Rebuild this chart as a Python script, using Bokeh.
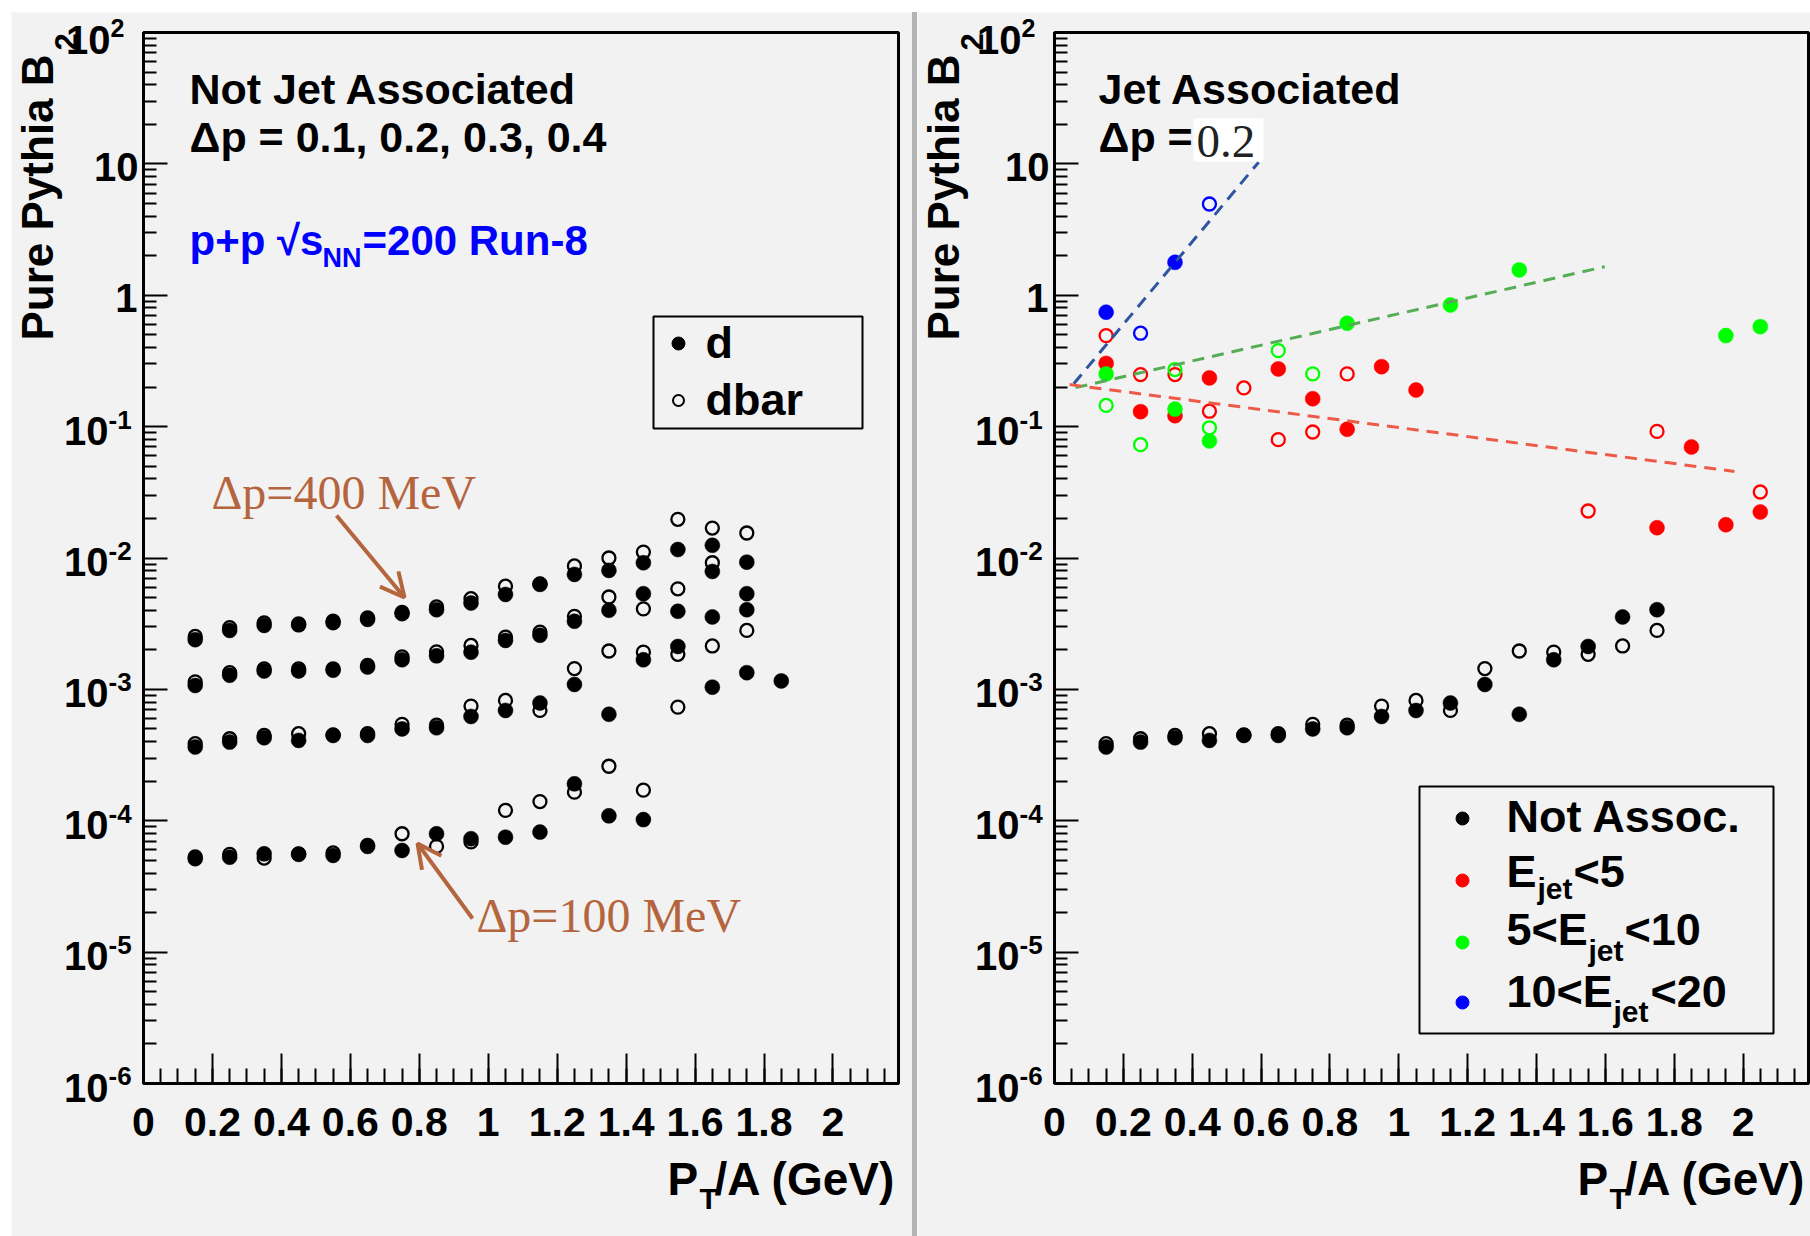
import math
from bokeh.plotting import figure
from bokeh.models import (Label, Arrow, OpenHead, BoxAnnotation, FixedTicker, Spacer,
                          Range1d, CustomJSTickFormatter, AllLabels)
from bokeh.layouts import row, column
from bokeh.embed import file_html
from bokeh.resources import INLINE

# ---------------- data ----------------
pt = [0.15, 0.25, 0.35, 0.45, 0.55, 0.65, 0.75, 0.85, 0.95, 1.05,
      1.15, 1.25, 1.35, 1.45, 1.55, 1.65, 1.75, 1.85]

# Left panel: not jet associated, four coalescence momenta
dp04_d = [2.39e-3, 2.81e-3, 3.07e-3, 3.10e-3, 3.22e-3, 3.41e-3, 3.77e-3, 4.04e-3, 4.54e-3,
          5.28e-3, 6.30e-3, 7.50e-3, 8.05e-3, 9.20e-3, 1.16e-2, 1.25e-2, 9.30e-3, None]
dp04_dbar = [2.53e-3, 2.95e-3, 3.20e-3, 3.15e-3, 3.30e-3, 3.50e-3, 3.85e-3, 4.24e-3, 4.90e-3,
             6.10e-3, 6.35e-3, 8.70e-3, 1.00e-2, 1.11e-2, 1.97e-2, 1.69e-2, 1.55e-2, None]
dp03_d = [1.07e-3, 1.28e-3, 1.38e-3, 1.38e-3, 1.40e-3, 1.48e-3, 1.68e-3, 1.80e-3, 1.92e-3,
          2.36e-3, 2.58e-3, 3.30e-3, 4.00e-3, 5.35e-3, 3.93e-3, 7.90e-3, 5.35e-3, None]
dp03_dbar = [1.14e-3, 1.34e-3, 1.43e-3, 1.43e-3, 1.43e-3, 1.52e-3, 1.77e-3, 1.93e-3, 2.16e-3,
             2.50e-3, 2.73e-3, 3.60e-3, 5.05e-3, 4.10e-3, 5.83e-3, 9.20e-3, None, None]
dp02_d = [3.64e-4, 3.97e-4, 4.28e-4, 4.09e-4, 4.46e-4, 4.46e-4, 5.00e-4, 5.10e-4, 6.22e-4,
          6.91e-4, 7.87e-4, 1.09e-3, 6.46e-4, 1.68e-3, 2.12e-3, 3.56e-3, 4.04e-3, None]
dp02_dbar = [3.86e-4, 4.21e-4, 4.46e-4, 4.60e-4, 4.50e-4, 4.60e-4, 5.42e-4, 5.35e-4, 7.46e-4,
             8.24e-4, 6.91e-4, 1.44e-3, 1.96e-3, 1.92e-3, 1.85e-3, 2.14e-3, 2.81e-3, None]
dp01_d = [5.14e-5, 5.28e-5, 5.60e-5, 5.55e-5, 5.45e-5, 6.38e-5, 5.94e-5, 7.96e-5, 7.30e-5,
          7.50e-5, 8.20e-5, 1.91e-4, 1.09e-4, 1.02e-4, None, 1.04e-3, 1.34e-3, 1.16e-3]
dp01_dbar = [5.30e-5, 5.55e-5, 5.20e-5, 5.60e-5, 5.70e-5, 6.50e-5, 7.96e-5, 6.38e-5, 6.90e-5,
             1.20e-4, 1.40e-4, 1.65e-4, 2.60e-4, 1.71e-4, 7.33e-4, None, None, None]

# Right panel: jet associated (dp = 0.2); "Not Assoc." is the dp=0.2 set above
ej5_d_x = [0.15, 0.25, 0.35, 0.45, 0.65, 0.75, 0.85, 0.95, 1.05, 1.75, 1.85, 1.95, 2.05]
ej5_d_y = [0.303, 0.130, 0.121, 0.235, 0.275, 0.163, 0.0955, 0.286, 0.190, 0.0170, 0.070, 0.0179, 0.0224]
ej5_dbar_x = [0.15, 0.25, 0.35, 0.45, 0.55, 0.65, 0.75, 0.85, 1.55, 1.75, 2.05]
ej5_dbar_y = [0.493, 0.249, 0.249, 0.131, 0.197, 0.0796, 0.091, 0.252, 0.0228, 0.092, 0.0318]
ej10_d_x = [0.15, 0.35, 0.45, 0.85, 1.15, 1.35, 1.95, 2.05]
ej10_d_y = [0.252, 0.136, 0.0778, 0.612, 0.843, 1.56, 0.493, 0.577]
ej10_dbar_x = [0.15, 0.25, 0.35, 0.45, 0.65, 0.75]
ej10_dbar_y = [0.145, 0.0729, 0.272, 0.098, 0.379, 0.252]
ej20_d_x = [0.15, 0.35]
ej20_d_y = [0.743, 1.78]
ej20_dbar_x = [0.25, 0.45]
ej20_dbar_y = [0.514, 4.95]

# dashed trend lines (end points)
fit20_x = [0.056, 0.593]
fit20_y = [0.212, 10.3]
fit10_x = [0.061, 1.598]
fit10_y = [0.198, 1.65]
fit5_x = [0.044, 1.975]
fit5_y = [0.209, 0.0456]

x_tick_labels = ["0", "0.2", "0.4", "0.6", "0.8", "1", "1.2", "1.4", "1.6", "1.8", "2"]

# ---------------- style ----------------
BG = "#f2f2f2"
FONT = "Liberation Sans"
SERIF = "Liberation Serif"
BROWN = "#b5653d"
XMAX = 2.19
YLO, YHI = 1e-6, 1e2
FT, FB = 32, 1083          # data frame top / bottom (page px)
PH = 1224                  # figure height
TOP_PAD, LEFT_PAD = 12, 11
BASE = 0.35                # baseline correction (em)
GEOM = {}


def pts(xs, ys):
    xx = [x for x, y in zip(xs, ys) if y is not None]
    yy = [y for y in ys if y is not None]
    return xx, yy


def px_to_x(fl, fr, px):
    return (px - fl) / (fr - fl) * XMAX


def py_to_y(py):
    return 10 ** (2 - (py - FT) / (FB - FT) * 8)


def make_fig(width, fl_page, fr_page, canvas_left):
    xr = Range1d(px_to_x(fl_page, fr_page, canvas_left), px_to_x(fl_page, fr_page, canvas_left + width))
    yr = Range1d(py_to_y(TOP_PAD + PH), py_to_y(TOP_PAD))
    p = figure(width=width, height=PH, x_range=xr, y_range=yr,
               y_axis_type="log", output_backend="svg", toolbar_location=None,
               min_border=0, background_fill_color=BG, border_fill_color=BG,
               outline_line_color=None)
    p.grid.visible = False
    xa = p.xaxis[0]
    xa.fixed_location = YLO
    xa.bounds = (0, XMAX)
    xa.ticker = FixedTicker(ticks=[0.2 * i for i in range(11)],
                            minor_ticks=[0.05 * i for i in range(44)])
    xa.formatter = CustomJSTickFormatter(
        args=dict(labs=x_tick_labels),
        code="return labs[Math.round(tick*5)];")
    xa.major_label_policy = AllLabels()
    xa.major_label_text_font = FONT
    xa.major_label_text_font_style = "bold"
    xa.major_label_text_font_size = "41px"
    xa.major_label_text_color = "black"
    xa.major_label_standoff = 24
    xa.major_tick_in, xa.major_tick_out = 30, 0
    xa.minor_tick_in, xa.minor_tick_out = 15, 0
    xa.major_tick_line_width = 2
    xa.minor_tick_line_width = 2
    xa.axis_line_width = 3
    ya = p.yaxis[0]
    ya.fixed_location = 0
    ya.bounds = (YLO, YHI)
    ya.ticker = FixedTicker(ticks=[10.0 ** e for e in range(-6, 3)],
                            minor_ticks=[k * 10.0 ** e for e in range(-6, 2) for k in range(2, 10)])
    ya.formatter = CustomJSTickFormatter(code="return '';")
    ya.major_label_text_font_size = "1px"
    ya.major_tick_in, ya.major_tick_out = 24, 0
    ya.minor_tick_in, ya.minor_tick_out = 13, 0
    ya.major_tick_line_width = 2
    ya.minor_tick_line_width = 2
    ya.axis_line_width = 3
    # plot frame
    p.add_layout(BoxAnnotation(left=0, right=XMAX, bottom=YLO, top=YHI, fill_alpha=0,
                               line_color="black", line_alpha=1, line_width=3, level="underlay"))
    GEOM[id(p)] = (fl_page, fr_page)
    return p


def to_data(p, px, py):
    fl, fr = GEOM[id(p)]
    return px_to_x(fl, fr, px), py_to_y(py)


def lab(p, px, py, s, size, color="black", font=FONT, style="bold", align="left", angle=0.0):
    if angle:
        px = px - BASE * size
    else:
        py = py - BASE * size
    x, y = to_data(p, px, py)
    p.add_layout(Label(x=x, y=y, text=s, text_font=font, text_font_size=f"{size}px",
                       text_font_style=style, text_color=color, text_align=align,
                       text_baseline="alphabetic", angle=angle))


def box(p, l, r, t, b, fill=None, line="black", lw=2):
    x0, y0 = to_data(p, l, b)
    x1, y1 = to_data(p, r, t)
    p.add_layout(BoxAnnotation(left=x0, right=x1, bottom=y0, top=y1,
                               fill_color=fill if fill else "white", fill_alpha=1 if fill else 0,
                               line_color=line if line else "white", line_alpha=1 if line else 0,
                               line_width=lw))


def frame_texts(p, left_page):
    fl, fr = GEOM[id(p)]
    # y tick labels
    for e in range(-6, 3):
        ty = FT + (2 - e) * (FB - FT) / 8
        if e == 0:
            lab(p, fl - 6, ty + 17, "1", 40, align="right")
        elif e == 1:
            lab(p, fl - 5, ty + 17, "10", 40, align="right")
        elif e == 2:
            lab(p, fl - 33, ty + 21, "10", 40, align="right")
            lab(p, fl - 33, ty + 4, "2", 25)
        else:
            lab(p, fl - 35, ty + 18, "10", 40, align="right")
            lab(p, fl - 35, ty + 2, str(e), 26)
    # y title
    off = left_page - LEFT_PAD
    lab(p, 52 + off, 340, "Pure Pythia B", 44, angle=math.pi / 2)
    lab(p, 76 + off, 50, "2", 31, angle=math.pi / 2)
    # x title
    lab(p, fr - 231, 1195, "P", 46)
    lab(p, fr - 199, 1208, "T", 30)
    lab(p, fr - 184, 1195, "/A (GeV)", 46)


def open_pts(p, xs, ys, color):
    p.scatter(xs, ys, marker="circle", size=13, fill_alpha=0, line_color=color, line_width=2.3)


def full_pts(p, xs, ys, color):
    p.scatter(xs, ys, marker="circle", size=15, fill_color=color, line_color=color, line_width=0.5)


# ---------------- left panel ----------------
p1 = make_fig(901, 143, 898, LEFT_PAD)
for dbar in (dp04_dbar, dp03_dbar, dp02_dbar, dp01_dbar):
    open_pts(p1, *pts(pt, dbar), "black")
for d in (dp04_d, dp03_d, dp02_d, dp01_d):
    full_pts(p1, *pts(pt, d), "black")

frame_texts(p1, LEFT_PAD)
lab(p1, 189, 104, "Not Jet Associated", 43)
lab(p1, 189, 152, "\u0394p = 0.1, 0.2, 0.3, 0.4", 43)
lab(p1, 189, 255, "p+p \u221as", 42, color="#0000ff")
lab(p1, 322, 267, "NN", 27, color="#0000ff")
lab(p1, 362, 255, "=200 Run-8", 42, color="#0000ff")

# legend (left)
box(p1, 653, 862, 316, 428)
lx, ly = to_data(p1, 678, 343)
p1.scatter([lx], [ly], marker="circle", size=13, fill_color="black", line_color="black")
lx, ly = to_data(p1, 678, 400)
p1.scatter([lx], [ly], marker="circle", size=11, fill_alpha=0, line_color="black", line_width=2)
lab(p1, 705, 358, "d", 45)
lab(p1, 705, 415, "dbar", 45)

# arrows + serif annotations
lab(p1, 211, 509, "\u0394p=400 MeV", 48, color=BROWN, font=SERIF, style="normal")
lab(p1, 476, 932, "\u0394p=100 MeV", 48, color=BROWN, font=SERIF, style="normal")
for (tx, ty, hx, hy) in ((336, 515, 404, 597), (472, 918, 417, 843)):
    x0, y0 = to_data(p1, tx, ty)
    x1, y1 = to_data(p1, hx, hy)
    p1.add_layout(Arrow(x_start=x0, y_start=y0, x_end=x1, y_end=y1, line_color=BROWN, line_width=4,
                        end=OpenHead(size=24, line_color=BROWN, line_width=4)))

# ---------------- right panel ----------------
RIGHT_LEFT = 917
p2 = make_fig(893, 1054, 1808, RIGHT_LEFT)
open_pts(p2, *pts(pt, dp02_dbar), "black")
full_pts(p2, *pts(pt, dp02_d), "black")
open_pts(p2, ej5_dbar_x, ej5_dbar_y, "#ff0000")
full_pts(p2, ej5_d_x, ej5_d_y, "#ff0000")
open_pts(p2, ej10_dbar_x, ej10_dbar_y, "#00ff00")
full_pts(p2, ej10_d_x, ej10_d_y, "#00ff00")
open_pts(p2, ej20_dbar_x, ej20_dbar_y, "#0000ff")
full_pts(p2, ej20_d_x, ej20_d_y, "#0000ff")

p2.line(fit20_x, fit20_y, line_color="#2d55a2", line_width=3, line_dash="12 8")
p2.line(fit10_x, fit10_y, line_color="#55ad55", line_width=3, line_dash="12 8")
p2.line(fit5_x, fit5_y, line_color="#ee5a48", line_width=3, line_dash="12 8")

frame_texts(p2, RIGHT_LEFT)
lab(p2, 1098, 104, "Jet Associated", 43)
lab(p2, 1098, 152, "\u0394p =", 43)
box(p2, 1193, 1263, 118, 161, fill="white", line=None, lw=0)
lab(p2, 1196, 157, "0.2", 47, color="#222222", font=SERIF, style="normal")

# legend (right)
box(p2, 1419, 1773, 786, 1033)
for (cy, col) in ((818, "black"), (880, "#ff0000"), (942, "#00ff00"), (1002, "#0000ff")):
    lx, ly = to_data(p2, 1462, cy)
    p2.scatter([lx], [ly], marker="circle", size=13, fill_color=col, line_color=col)
lab(p2, 1506, 832, "Not Assoc.", 45)
lab(p2, 1506, 887, "E", 45)
lab(p2, 1537, 898, "jet", 30)
lab(p2, 1573, 887, "<5", 45)
lab(p2, 1506, 945, "5<E", 45)
lab(p2, 1588, 960, "jet", 30)
lab(p2, 1624, 945, "<10", 45)
lab(p2, 1506, 1007, "10<E", 45)
lab(p2, 1613, 1021, "jet", 30)
lab(p2, 1650, 1007, "<20", 45)

sep = Spacer(width=5, height=PH, styles={"background-color": "#b4b4b4"})
layout = column(Spacer(width=1810, height=TOP_PAD),
                row(Spacer(width=LEFT_PAD, height=PH), p1, sep, p2))

with open("out.html", "w") as f:
    f.write(file_html(layout, INLINE))
